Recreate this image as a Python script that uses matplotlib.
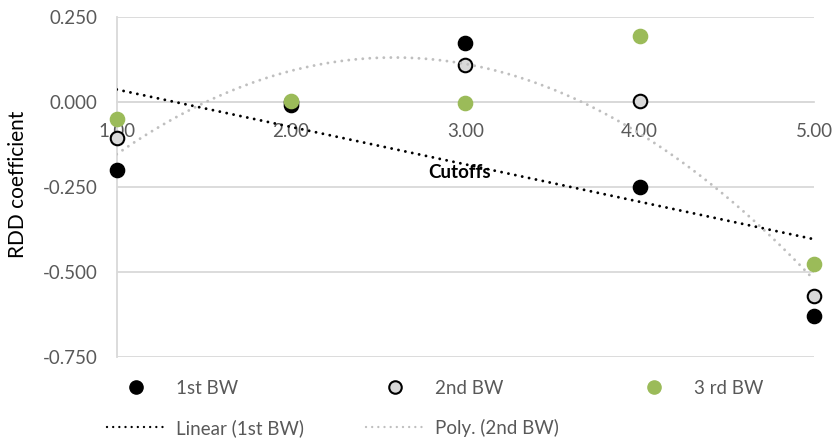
import numpy as np
import matplotlib
matplotlib.use("Agg")
import matplotlib.pyplot as plt
from matplotlib.lines import Line2D
from matplotlib.ticker import FuncFormatter, FixedLocator

plt.rcParams['font.family'] = ['Lato', 'DejaVu Sans']

cutoffs = [1, 2, 3, 4, 5]
bw1 = [-0.200, -0.010, 0.175, -0.250, -0.630]
bw2 = [-0.107, 0.000, 0.110, 0.002, -0.569]
bw3 = [-0.051, 0.003, -0.004, 0.193, -0.477]
yticks = [-0.75, -0.5, -0.25, 0.0, 0.25]
xticks = [1, 2, 3, 4, 5]
series_labels = ['1st BW', '2nd BW', '3 rd BW']
trend_labels = ['Linear (1st BW)', 'Poly. (2nd BW)']

GRAY_TXT = '#595959'
GRID = '#d9d9d9'
GREEN = '#9bbb59'
FS = 13.5
W, H = 835, 440

fig = plt.figure(figsize=(W/100, H/100), dpi=100)
ax = fig.add_axes([116.7/W, 1-357.3/H, (814-116.7)/W, (357.3-17)/H])
ax.set_xlim(1, 5)
ax.set_ylim(-0.75, 0.25)

for t in yticks:
    ax.axhline(t, color=GRID, lw=1.3, zorder=1)

for s in ['top', 'right']:
    ax.spines[s].set_visible(False)
ax.spines['left'].set_color(GRID)
ax.spines['left'].set_linewidth(1.3)
ax.spines['bottom'].set_position(('data', 0))
ax.spines['bottom'].set_color(GRID)
ax.spines['bottom'].set_linewidth(1.3)

ax.yaxis.set_major_locator(FixedLocator(yticks))
ax.yaxis.set_major_formatter(FuncFormatter(lambda v, p: f"{v:.3f}"))
ax.xaxis.set_major_locator(FixedLocator(xticks))
ax.xaxis.set_major_formatter(FuncFormatter(lambda v, p: f"{v:.2f}"))
ax.tick_params(axis='both', length=0, labelsize=FS, labelcolor=GRAY_TXT)
ax.tick_params(axis='y', pad=14)
ax.tick_params(axis='x', pad=15)
ax.xaxis.set_zorder(0.5)

# trendlines (Excel-style: linear on 1st BW, 2nd-order polynomial on 2nd BW)
x = np.array(cutoffs, dtype=float)
xs = np.linspace(1, 5, 300)
lin = np.polyfit(x, bw1, 1)
quad = np.polyfit(x, bw2, 2)

DOT = (0, (0.01, 2.4))
ax.scatter(cutoffs, bw1, s=105, color='black', zorder=3, clip_on=False)
ax.scatter(cutoffs, bw2, s=95, facecolor='#d9d9d9', edgecolor='black', linewidths=1.5, zorder=3, clip_on=False)
ax.scatter(cutoffs, bw3, s=105, color=GREEN, zorder=3, clip_on=False)

ax.plot(xs, np.polyval(lin, xs), color='black', lw=2.1, ls=DOT, dash_capstyle='round', zorder=4)
ax.plot(xs, np.polyval(quad, xs), color='#bfbfbf', lw=2.1, ls=DOT, dash_capstyle='round', zorder=4)

fig.text(18/W, 1-184/H, 'RDD coefficient', rotation=90, ha='center', va='center',
         fontsize=15, color='black')
fig.text(459.5/W, 1-172/H, 'Cutoffs', ha='center', va='center',
         fontsize=FS, fontweight='bold', color='black', zorder=2)

# legend entries (Excel layout: 3 columns, 2 rows)
LDOT = (0, (0.01, 2.6))
handles = [
    Line2D([], [], ls='none', marker='o', markersize=9.5, color='black'),
    Line2D([], [], ls='none', marker='o', markersize=9, markerfacecolor='#d9d9d9', markeredgecolor='black', markeredgewidth=1.5),
    Line2D([], [], ls='none', marker='o', markersize=9.5, color=GREEN),
    Line2D([], [], color='black', lw=1.7, ls=LDOT, dash_capstyle='round'),
    Line2D([], [], color='#bfbfbf', lw=1.7, ls=LDOT, dash_capstyle='round'),
]
labels = series_labels + trend_labels
pos = [(107, 388), (366, 388), (625, 388), (107, 428), (366, 428)]
for hnd, lab, (px, py) in zip(handles, labels, pos):
    lg = fig.legend([hnd], [lab], loc='center left', bbox_to_anchor=(px/W, 1-py/H),
                    frameon=False, fontsize=FS, labelcolor=GRAY_TXT, borderpad=0,
                    borderaxespad=0, handlelength=3.1, handletextpad=0.6)

fig.savefig('out.png', dpi=100)
